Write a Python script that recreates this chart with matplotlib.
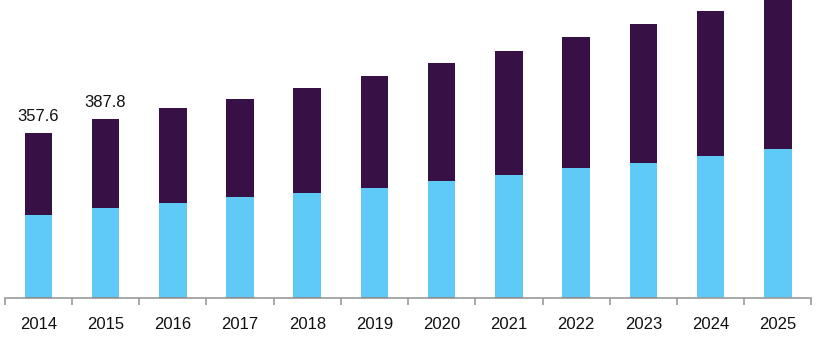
import matplotlib
matplotlib.use("Agg")
import matplotlib.pyplot as plt
import numpy as np

years = ["2014", "2015", "2016", "2017", "2018", "2019",
         "2020", "2021", "2022", "2023", "2024", "2025"]
other = [3.0, 3.0, 3.0, 3.0, 3.0, 3.0, 3.0, 3.0, 3.0, 3.0, 0.0, 0.0]
blue = [177.0, 193.0, 203.5, 216.0, 224.5, 236.0, 251.0, 263.0, 278.0, 289.5, 308.0, 322.0]
purple = [177.6, 191.8, 204.5, 213.0, 227.5, 243.0, 255.0, 269.0, 284.0, 301.5, 315.0, 333.0]
labeled = ["2014", "2015"]

c_other = "#2b5f6e"
c_blue = "#5ecaf5"
c_purple = "#371046"

plt.rcParams['font.family'] = ['Liberation Sans', 'DejaVu Sans']

fig = plt.figure(figsize=(8.2, 3.5), dpi=100)
ax = fig.add_axes([0.0057, 0.1486, 0.9839, 0.8514])

x = np.arange(len(years))
w = 0.41
o = np.array(other)
b = np.array(blue)
p = np.array(purple)
ax.bar(x, o, w, color=c_other, linewidth=0)
ax.bar(x, b, w, bottom=o, color=c_blue, linewidth=0)
ax.bar(x, p, w, bottom=o + b, color=c_purple, linewidth=0)

tot = o + b + p
for i, yr in enumerate(years):
    if yr in labeled:
        ax.text(x[i], tot[i] + 19, f"{tot[i]:.1f}", ha="center", va="bottom",
                fontsize=12, color="#111111")

ax.set_xlim(-0.5, len(years) - 0.5)
ax.set_ylim(0, 645.8)
for s in ["top", "right", "left"]:
    ax.spines[s].set_visible(False)
ax.spines["bottom"].set_color("#9a9a9a")
ax.spines["bottom"].set_linewidth(1.2)
ax.set_yticks([])
ax.set_xticks(x)
ax.set_xticklabels(years, fontsize=12, color="#111111")
ax.tick_params(axis="x", which="major", length=0, pad=14)
ax.set_xticks(np.arange(-0.5, len(years)), minor=True)
ax.tick_params(axis="x", which="minor", length=5, width=1.2, color="#9a9a9a")

fig.savefig("out.png", dpi=100)
